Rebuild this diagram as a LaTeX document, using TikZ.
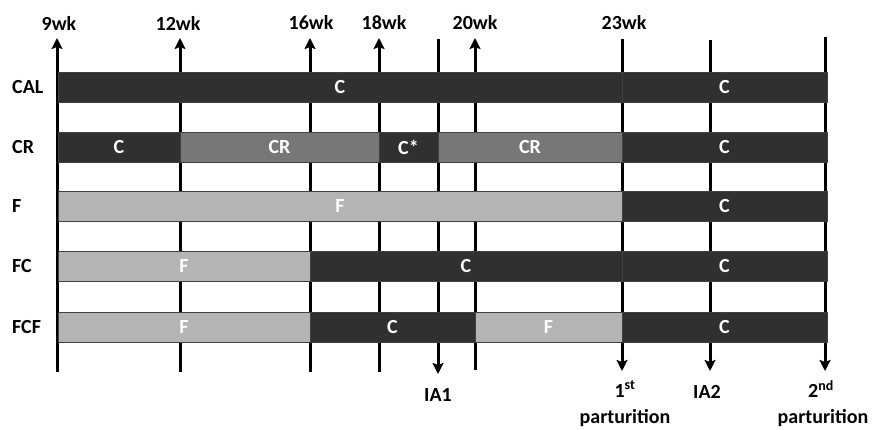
\documentclass[tikz,border=0pt]{standalone}
\usepackage{fontspec}
\setmainfont{Carlito}
\usetikzlibrary{arrows.meta}
\definecolor{cdark}{HTML}{303030}
\definecolor{cmid}{HTML}{777777}
\definecolor{clight}{HTML}{B4B4B4}
\newcommand\segbar[5]{\path[segbox,fill=#3] (#1,#4-15) rectangle node[segtext]{#5} (#2,#4+15);}
\begin{document}
\begin{tikzpicture}[x=1pt,y=-1pt,
  font=\bfseries\fontsize{20}{23}\selectfont,
  vline/.style={line width=3pt},
  uparrow/.style={vline,-{Stealth[length=11pt,width=11pt,inset=2pt]}},
  downarrow/.style={vline,-{Stealth[length=11pt,width=11pt,inset=2pt]}},
  segbox/.style={draw=black!75,line width=0.8pt},
  segtext/.style={text=white,inner sep=0pt},
  lbl/.style={inner sep=0pt},
  rowlbl/.style={inner sep=0pt,anchor=west}]
\useasboundingbox (0,0) rectangle (877,430);
% time lines
\coordinate (b9) at (57,372);  \coordinate (t9) at (57,38);
\coordinate (b12) at (180,372); \coordinate (t12) at (180,38);
\coordinate (b16) at (310,372); \coordinate (t16) at (310,38);
\coordinate (b18) at (379,372); \coordinate (t18) at (379,38);
\coordinate (tIA1) at (438,39); \coordinate (bIA1) at (438,374);
\coordinate (b20) at (475,370); \coordinate (t20) at (475,38);
\coordinate (t23) at (622,39); \coordinate (b23) at (622,371);
\coordinate (tIA2) at (710,40); \coordinate (bIA2) at (710,371);
\coordinate (tP2) at (825,37); \coordinate (bP2) at (825,371);
\draw[uparrow] (b9) -- (t9);
\draw[uparrow] (b12) -- (t12);
\draw[uparrow] (b16) -- (t16);
\draw[uparrow] (b18) -- (t18);
\draw[uparrow] (b20) -- (t20);
\draw[downarrow] (tIA1) -- (bIA1);
\draw[downarrow] (t23) -- (b23);
\draw[downarrow] (tIA2) -- (bIA2);
\draw[downarrow] (tP2) -- (bP2);
% top labels
\node[lbl] (l9) at (59,23) {9wk};
\node[lbl] (l12) at (178,23) {12wk};
\node[lbl] (l16) at (311,23) {16wk};
\node[lbl] (l18) at (384,23) {18wk};
\node[lbl] (l20) at (475,23) {20wk};
\node[lbl] (l23) at (624,23) {23wk};
% bottom labels
\node[lbl] (lIA1) at (438,395) {IA1};
\node[lbl] (lP1a) at (625,389) {1\textsuperscript{st}};
\node[lbl] (lP1b) at (625,418) {parturition};
\node[lbl] (lIA2) at (707,392) {IA2};
\node[lbl] (lP2a) at (821,389) {2\textsuperscript{nd}};
\node[lbl] (lP2b) at (823,418) {parturition};
% row labels
\node[rowlbl] (rCAL) at (12,87) {CAL};
\node[rowlbl] (rCR) at (12,147) {CR};
\node[rowlbl] (rF) at (12,206) {F};
\node[rowlbl] (rFC) at (12,266) {FC};
\node[rowlbl] (rFCF) at (12,327) {FCF};
% bars
\segbar{58}{622}{cdark}{87}{C}
\segbar{622}{827}{cdark}{87}{C}
\segbar{58}{180}{cdark}{147}{C}
\segbar{180}{379}{cmid}{147}{CR}
\segbar{379}{438}{cdark}{147}{C*}
\segbar{438}{622}{cmid}{147}{CR}
\segbar{622}{827}{cdark}{147}{C}
\segbar{58}{622}{clight}{206}{F}
\segbar{622}{827}{cdark}{206}{C}
\segbar{58}{310}{clight}{266}{F}
\segbar{310}{622}{cdark}{266}{C}
\segbar{622}{827}{cdark}{266}{C}
\segbar{58}{310}{clight}{327}{F}
\segbar{310}{475}{cdark}{327}{C}
\segbar{475}{622}{clight}{327}{F}
\segbar{622}{827}{cdark}{327}{C}
\end{tikzpicture}
\end{document}
